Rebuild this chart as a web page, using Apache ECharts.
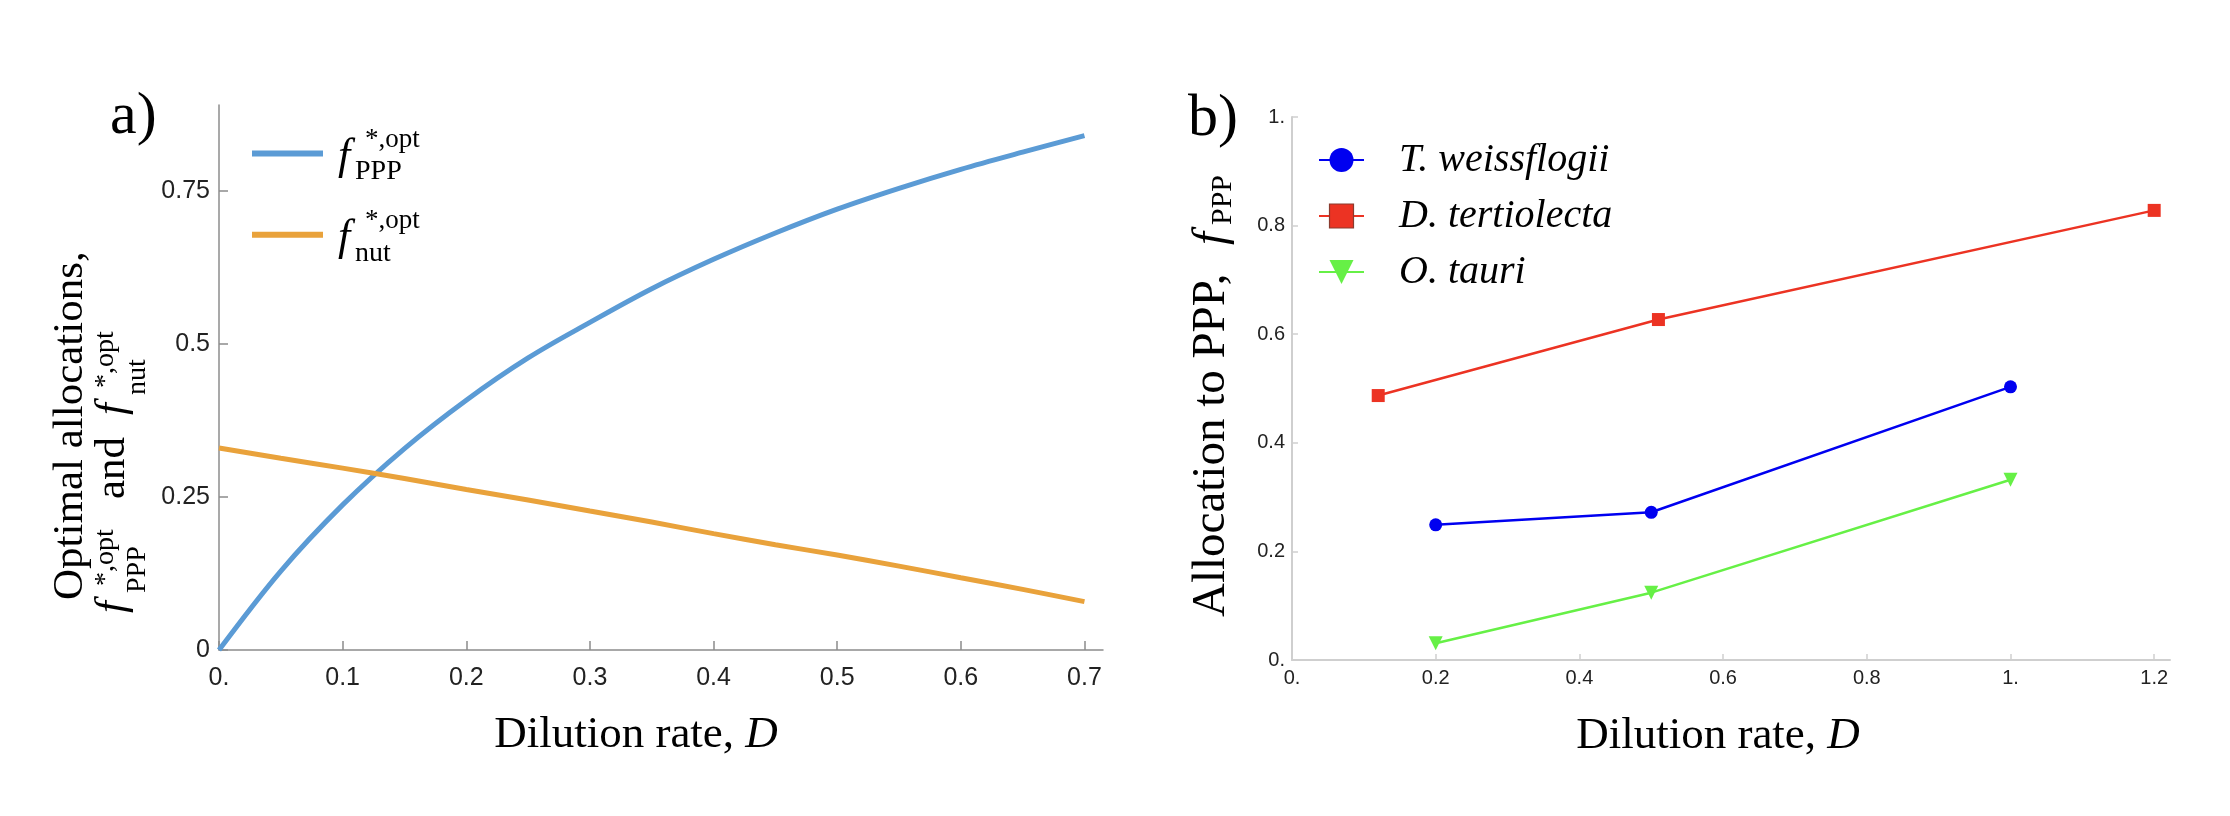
<!DOCTYPE html>
<html><head><meta charset="utf-8">
<script src="https://cdn.jsdelivr.net/npm/echarts@6/dist/echarts.min.js"></script>
<style>html,body{margin:0;padding:0;background:#fff}#c{width:2230px;height:816px}</style>
</head><body><div id="c"></div>
<script>
// ---------- Panel a data ----------
const aD   = [0, 0.05, 0.1, 0.15, 0.2, 0.25, 0.3, 0.35, 0.4, 0.45, 0.5, 0.55, 0.6, 0.65, 0.7];
const aPPP = [0, 0.129, 0.237, 0.329, 0.408, 0.477, 0.535, 0.59, 0.638, 0.681, 0.72, 0.754, 0.785, 0.813, 0.84];
const aNut = [0.33, 0.313, 0.297, 0.28, 0.262, 0.245, 0.227, 0.209, 0.19, 0.172, 0.155, 0.137, 0.118, 0.099, 0.079];
const aXTicks = [0, 0.1, 0.2, 0.3, 0.4, 0.5, 0.6, 0.7];
const aXTickLabels = ['0.', '0.1', '0.2', '0.3', '0.4', '0.5', '0.6', '0.7'];
const aYTicks = [0, 0.25, 0.5, 0.75];
const aYTickLabels = ['0', '0.25', '0.5', '0.75'];

// ---------- Panel b data ----------
const bSpecies = ['T. weissflogii', 'D. tertiolecta', 'O. tauri'];
const bTwD = [0.2, 0.5, 1.0];
const bTw  = [0.249, 0.272, 0.503];
const bDtD = [0.12, 0.51, 1.2];
const bDt  = [0.487, 0.627, 0.828];
const bOtD = [0.2, 0.5, 1.0];
const bOt  = [0.031, 0.124, 0.332];
const bXTicks = [0, 0.2, 0.4, 0.6, 0.8, 1.0, 1.2];
const bXTickLabels = ['0.', '0.2', '0.4', '0.6', '0.8', '1.', '1.2'];
const bYTicks = [0, 0.2, 0.4, 0.6, 0.8, 1.0];
const bYTickLabels = ['0.', '0.2', '0.4', '0.6', '0.8', '1.'];

const SER = 'Liberation Serif';
const SANS = 'Liberation Sans';
const pairs = (xs, ys) => xs.map((x, i) => [x, ys[i]]);
const fmt = (ticks, labels) => v => {
  const i = ticks.findIndex(t => Math.abs(t - v) < 1e-9);
  return i >= 0 ? labels[i] : '';
};
const NB = '\u00a0';
const tok = (name, txt) => '{' + name + '|' + (txt === undefined ? NB : txt) + '}';

// y-axis title of panel a (stacked super/subscripts); all three lines have equal width
const aYName =
  tok('p1') + tok('l1', 'Optimal allocations,') + tok('e1') + '\n' +
  tok('s1') + tok('sup', '*,opt') + tok('s2') + tok('sup', '*,opt') + tok('eS') + '\n' +
  tok('f', 'f') + tok('sub', 'PPP') + tok('and', 'and') + tok('f', 'f') + tok('sub', 'nut') + tok('eM');
const L1 = 68.1, LS = 2, LF = 11.9, PSUB = 30.5;
const aYRich = {
  p1:  {width: 13, height: L1, lineHeight: L1, fontSize: 10, align: 'left'},
  l1:  {fontFamily: SER, fontSize: 43, color: '#000', width: 352, height: L1, lineHeight: L1, align: 'left'},
  e1:  {width: 106, height: L1, lineHeight: L1, fontSize: 10, align: 'left'},
  s1:  {width: 27, height: LS, lineHeight: LS, fontSize: 10, align: 'left'},
  s2:  {width: 133, height: LS, lineHeight: LS, fontSize: 10, align: 'left'},
  sup: {fontFamily: SER, fontSize: 28, color: '#000', width: 65, height: LS, lineHeight: LS, align: 'left'},
  eS:  {width: 181, height: LS, lineHeight: LS, fontSize: 10, align: 'left'},
  f:   {fontFamily: SER, fontStyle: 'italic', fontSize: 43, color: '#000', width: 20, height: LF, lineHeight: LF, verticalAlign: 'top', align: 'left'},
  and: {fontFamily: SER, fontSize: 43, color: '#000', width: 62, padding: [0, 22, 0, 22], height: LF, lineHeight: LF, verticalAlign: 'top', align: 'left'},
  sub: {fontFamily: SER, fontSize: 28, color: '#000', width: 72, height: 1, padding: [PSUB, 0, 0, 0], lineHeight: PSUB + 1, verticalAlign: 'top', align: 'left'},
  eM:  {width: 181, height: LF, lineHeight: LF, fontSize: 10, verticalAlign: 'top', align: 'left'}
};

// legend labels of panel a
const aLegendRich = {
  s:   {width: 37, height: 10, lineHeight: 10, fontSize: 10, align: 'left'},
  sup: {fontFamily: SER, fontSize: 27, color: '#000', height: 10, lineHeight: 10, align: 'left'},
  g:   {width: 10, height: 26.4, lineHeight: 26.4, fontSize: 10, verticalAlign: 'top', align: 'left'},
  f:   {fontFamily: SER, fontStyle: 'italic', fontSize: 44, color: '#000', width: 17, height: 26.4, lineHeight: 26.4, verticalAlign: 'top', align: 'left'},
  sub: {fontFamily: SER, fontSize: 28, color: '#000', height: 1, padding: [27.1, 0, 0, 0], lineHeight: 28.1, verticalAlign: 'top', align: 'left'}
};
const aLegendText = {PPP: 'PPP', nut: 'nut'};

const xName = (gap, pad) => ({
  name: 'Dilution rate, {i|D}', nameLocation: 'middle', nameGap: gap,
  nameTextStyle: {fontFamily: SER, fontSize: 45, color: '#000', lineHeight: 45, padding: pad,
    rich: {i: {fontFamily: SER, fontStyle: 'italic', fontSize: 45, color: '#000', lineHeight: 45}}}
});

const aAxisCol = '#8c8c8c';
const bAxisCol = '#cfcfcf';

const option = {
  backgroundColor: '#fff',
  animation: false,
  grid: [
    {left: 219, top: 105, width: 884, height: 545, containLabel: false},
    {left: 1292, top: 117, width: 878, height: 543, containLabel: false}
  ],
  xAxis: [
    Object.assign({
      gridIndex: 0, type: 'value', min: 0, max: 0.715,
      axisLine: {show: true, onZero: false, lineStyle: {color: aAxisCol, width: 1.5}},
      axisTick: {show: true, inside: true, length: 9, customValues: aXTicks, lineStyle: {color: aAxisCol, width: 1.5}},
      axisLabel: {customValues: aXTicks, formatter: fmt(aXTicks, aXTickLabels), margin: 16, fontSize: 25, fontFamily: SANS, color: '#222'},
      splitLine: {show: false}
    }, xName(63, [0, 50, 0, 0])),
    Object.assign({
      gridIndex: 1, type: 'value', min: 0, max: 1.222,
      axisLine: {show: true, onZero: false, lineStyle: {color: bAxisCol, width: 2}},
      axisTick: {show: true, inside: true, length: 6, customValues: bXTicks, lineStyle: {color: bAxisCol, width: 1.5}},
      axisLabel: {customValues: bXTicks, formatter: fmt(bXTicks, bXTickLabels), margin: 8, fontSize: 20, fontFamily: SANS, color: '#222'},
      splitLine: {show: false}
    }, xName(54, [0, 26, 0, 0]))
  ],
  yAxis: [
    {
      gridIndex: 0, type: 'value', min: 0, max: 0.89,
      axisLine: {show: true, onZero: false, lineStyle: {color: aAxisCol, width: 1.5}},
      axisTick: {show: true, inside: true, length: 9, customValues: aYTicks, lineStyle: {color: aAxisCol, width: 1.5}},
      axisLabel: {customValues: aYTicks, formatter: fmt(aYTicks, aYTickLabels), margin: 9, fontSize: 25, fontFamily: SANS, color: '#222'},
      splitLine: {show: false},
      name: aYName, nameLocation: 'middle', nameRotate: 90, nameGap: 81,
      nameTextStyle: {fontFamily: SER, fontSize: 43, color: '#000', rich: aYRich}
    },
    {
      gridIndex: 1, type: 'value', min: 0, max: 1.0,
      axisLine: {show: true, onZero: false, lineStyle: {color: bAxisCol, width: 2}},
      axisTick: {show: true, inside: true, length: 6, customValues: bYTicks, lineStyle: {color: bAxisCol, width: 1.5}},
      axisLabel: {customValues: bYTicks, formatter: fmt(bYTicks, bYTickLabels), margin: 7, fontSize: 20, fontFamily: SANS, color: '#222'},
      splitLine: {show: false},
      name: tok('t', 'Allocation to PPP,  ') + tok('f', 'f') + tok('sub', 'PPP') + tok('e'),
      nameLocation: 'middle', nameRotate: 90, nameGap: 57,
      nameTextStyle: {fontFamily: SER, fontSize: 47, color: '#000',
        rich: {
          t:   {fontFamily: SER, fontSize: 47, color: '#000', width: 372, height: 47, lineHeight: 47, verticalAlign: 'top', align: 'left'},
          f:   {fontFamily: SER, fontStyle: 'italic', fontSize: 47, color: '#000', width: 20, height: 47, lineHeight: 47, verticalAlign: 'top', align: 'left'},
          sub: {fontFamily: SER, fontSize: 30, color: '#000', width: 50, height: 1, padding: [34.8, 0, 0, 0], lineHeight: 35.8, verticalAlign: 'top', align: 'left'},
          e:   {width: 15, fontSize: 10, height: 47, lineHeight: 47, verticalAlign: 'top', align: 'left'}
        }}
    }
  ],
  legend: [
    {
      orient: 'vertical', left: 252, top: 126, padding: 0, itemWidth: 71, itemHeight: 6, itemGap: 21,
      icon: 'rect', selectedMode: false, data: ['PPP', 'nut'],
      formatter: n => tok('s') + tok('sup', '*,opt') + '\n' + tok('g') + tok('f', 'f') + tok('sub', aLegendText[n]),
      textStyle: {rich: aLegendRich}
    },
    {
      orient: 'vertical', left: 1318, top: 140, padding: 0, itemWidth: 45, itemHeight: 30, itemGap: 16,
      selectedMode: false,
      data: [
        {name: bSpecies[0]},
        {name: bSpecies[1], itemStyle: {borderColor: '#8a3b2e', borderWidth: 1.2}},
        {name: bSpecies[2]}
      ],
      formatter: n => tok('g') + tok('t', n),
      textStyle: {rich: {
        g: {width: 30, fontSize: 10, lineHeight: 30},
        t: {fontFamily: SER, fontStyle: 'italic', fontSize: 40, color: '#000', lineHeight: 30}
      }}
    }
  ],
  graphic: [
    {type: 'text', style: {x: 110, y: 117, text: 'a)', fontFamily: SER, fontSize: 60, fill: '#000', verticalAlign: 'middle', align: 'left'}},
    {type: 'text', style: {x: 1188, y: 119, text: 'b)', fontFamily: SER, fontSize: 60, fill: '#000', verticalAlign: 'middle', align: 'left'}}
  ],
  series: [
    {name: 'PPP', type: 'line', xAxisIndex: 0, yAxisIndex: 0, data: pairs(aD, aPPP),
      smooth: 0.35, symbol: 'none', showSymbol: false,
      lineStyle: {width: 5, color: '#5b9bd5'}, itemStyle: {color: '#5b9bd5'}},
    {name: 'nut', type: 'line', xAxisIndex: 0, yAxisIndex: 0, data: pairs(aD, aNut),
      smooth: 0.35, symbol: 'none', showSymbol: false,
      lineStyle: {width: 5, color: '#e9a23b'}, itemStyle: {color: '#e9a23b'}},
    {name: bSpecies[0], type: 'line', xAxisIndex: 1, yAxisIndex: 1, data: pairs(bTwD, bTw),
      symbol: 'circle', symbolSize: 13,
      lineStyle: {width: 2.5, color: '#0000f0'}, itemStyle: {color: '#0000f0'}},
    {name: bSpecies[1], type: 'line', xAxisIndex: 1, yAxisIndex: 1, data: pairs(bDtD, bDt),
      symbol: 'rect', symbolSize: 13,
      lineStyle: {width: 2.5, color: '#ec3323'}, itemStyle: {color: '#ec3323'}},
    {name: bSpecies[2], type: 'line', xAxisIndex: 1, yAxisIndex: 1, data: pairs(bOtD, bOt),
      symbol: 'triangle', symbolRotate: 180, symbolSize: 14,
      lineStyle: {width: 2.5, color: '#66f046'}, itemStyle: {color: '#66f046'}}
  ]
};

const chart = echarts.init(document.getElementById('c'), null, {renderer: 'canvas'});
chart.setOption(option);
</script>
</body></html>
